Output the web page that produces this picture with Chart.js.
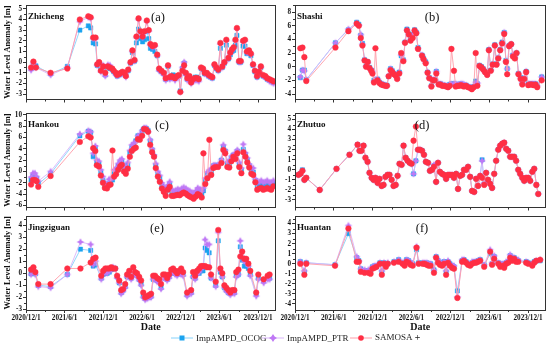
<!DOCTYPE html>
<html>
<head>
<meta charset="utf-8">
<title>Water level anomaly</title>
<script src="https://cdn.jsdelivr.net/npm/chart.js@4.4.1/dist/chart.umd.min.js"></script>
<style>
  html, body { margin: 0; padding: 0; background: #fff; }
  #wrap { position: relative; width: 550px; height: 345px; overflow: hidden; background: #fff;
          font-family: "Liberation Serif", "Times New Roman", serif; }
  #wrap canvas { position: absolute; }
  .leg { position: absolute; top: 331px; height: 13px; display: flex; align-items: center;
         font-size: 9px; color: #222; white-space: nowrap; }
  .leg svg { margin-right: 3px; }
</style>
</head>
<body>
<div id="wrap"></div>
<script>
// x values are days since 2020/12/1
const xTickDays   = [0, 182, 365, 547, 730, 912, 1095];
const xTickLabels = ["2020/12/1", "2021/6/1", "2021/12/1", "2022/6/1", "2022/12/1", "2023/6/1", "2023/12/1"];
const seriesNames = ["ImpAMPD_OCOG", "ImpAMPD_PTR", "SAMOSA＋"];
const stations    = ["Zhicheng", "Shashi", "Hankou", "Zhutuo", "Jingziguan", "Huantan"];
const letters     = ["(a)", "(b)", "(c)", "(d)", "(e)", "(f)"];

// (a) Zhicheng
const daysA = [24,35,47,116,195,254,294,305,317,328, 336,345,353,364,374,386,396,407,414,424,
  430,440,447,455,465,471,482,493,502,512, 521,531,540,550,559,570,579,587,597,608,
  619,628,639,650,659,670,678,686,694,703, 713,721,728,738,746,754,761,771,779,788,
  798,807,815,826,835,843,853,862,870,879, 889,898,907,917,926,936,945,955,964,972,
  980,988,995,1005,1013,1024,1033,1042,1052,1061, 1071,1080,1090,1099,1108,1118,1129,1138,1149,1159, 1168];
const ocogA = [-0.6,-0.05,-0.35,-1.1,-0.4,3.0,3.4,3.2,1.8,1.7, -0.3,-0.1,-0.7,-0.5,-1.2,-0.5,-0.6,-0.7,-0.9,-1.1,
  -1.3,-1.2,-1.1,-1.0,-1.1,-1.2,-0.8,-0.1,0.9,0.1, 1.8,3.1,2.2,1.9,2.1,2.9,2.2,1.3,1.2,1.0,
  0.6,-0.7,-0.9,-1.1,-1.6,-0.4,-1.5,-1.4,-1.2,-1.4, -1.3,-1.3,-2.7,-0.6,-0.1,-1.1,-1.6,-1.4,-1.8,-1.6,
  -1.4,-1.4,-1.5,-0.6,-0.7,-1.1,-1.1,-1.3,-1.4,-1.5, -0.3,-0.6,-0.8,1.3,-0.5,-0.1,1.6,0.3,0.7,1.0,
  1.1,1.6,2.5,0.0,0.0,1.5,1.5,0.8,0.9,0.6, -0.3,-0.9,-1.4,-1.0,-0.5,-1.3,-1.4,-1.6,-1.7,-1.8, -1.9];
const ptrA = [-0.75,-0.1,-0.5,-1.2,-0.5,3.8,4.2,4.1,2.2,2.2, -0.3,-0.1,-0.9,-0.3,-1.3,-0.25,-0.3,-0.7,-0.9,-1.2,
  -1.3,-1.2,-1.1,-1.0,-1.2,-1.4,-0.8,-0.1,1.0,0.1, 2.3,4.0,2.8,2.3,2.8,3.8,2.9,1.6,1.4,1.5,
  0.6,-0.8,-0.9,-1.2,-1.7,-0.4,-1.6,-1.5,-1.5,-1.7, -1.4,-1.4,-2.8,-0.5,0.0,-1.2,-1.7,-1.5,-2.0,-1.8,
  -1.7,-1.7,-1.8,-0.6,-0.7,-1.1,-1.2,-1.3,-1.4,-1.5, -0.3,-0.6,-0.8,1.7,-0.5,-0.1,2.0,0.3,0.8,1.1,
  1.3,2.0,3.1,0.0,0.0,1.9,2.0,0.9,1.0,0.7, -0.3,-0.9,-1.4,-1.0,-0.5,-1.3,-1.4,-1.6,-1.8,-1.9, -2.0];
const samosaA = [-0.5,0.05,-0.5,-1.0,-0.6,4.0,4.3,4.2,2.3,2.3, -0.2,0.0,-0.8,-0.4,-1.0,-0.4,-0.5,-0.6,-0.8,-1.0,
  -1.2,-1.1,-1.0,-0.9,-1.0,-1.3,-0.7,0.0,1.1,0.2, 2.4,4.1,2.9,2.4,2.9,3.9,3.0,1.7,1.5,1.6,
  0.7,-0.6,-0.8,-1.0,-1.5,-0.3,-1.4,-1.3,-1.4,-1.5, -1.3,-1.2,-2.8,-0.8,-0.3,-1.0,-1.5,-1.3,-1.9,-1.6,
  -1.5,-1.5,-1.6,-0.5,-0.6,-1.0,-1.0,-1.2,-1.3,-1.4, -0.2,-0.5,-0.7,1.8,-0.4,0.0,2.1,0.4,0.9,1.2,
  1.4,2.1,3.2,0.1,0.1,2.0,2.1,1.0,1.1,0.8, -0.2,-0.8,-1.3,-0.9,-0.4,-1.2,-1.3,-1.5,-1.6,-1.7, -1.8];
const yTicksA = [-3, -2, -1, 0, 1, 2, 3, 4, 5];

// (b) Shashi
const daysB = [25,35,44,53,190,251,290,300,309,317, 327,334,342,350,358,364,371,378,388,397,
  405,414,424,432,440,449,457,465,473,480, 490,499,509,517,526,535,543,553,562,570,
  578,597,604,614,623,631,641,648,656,664, 675,683,692,702,711,719,727,735,747,755,
  763,771,779,787,794,804,813,823,831,840, 849,857,867,876,884,893,903,911,920,929,
  939,947,955,964,973,983,991,997,1006,1016, 1024,1033,1041,1050,1060,1068,1077,1086,1096,1104,
  1113,1121,1130,1138,1159];
const ocogB = [-1.6,-0.5,-0.5,-1.9,3.5,5.4,6.5,6.2,4.6,3.4, 1.0,0.1,0.7,-0.1,-0.5,-0.6,-2.0,-1.9,-1.8,-2.3,
  -2.5,-2.6,-2.7,-2.7,-1.4,-0.3,-0.6,-1.0,-1.2,-1.7, -0.8,1.6,1.0,3.6,5.5,4.8,4.0,4.7,5.4,5.0,
  2.8,1.7,1.2,0.7,-0.8,-1.6,-2.8,-1.9,-1.9,-0.7, -2.5,-2.5,-2.7,-2.7,-2.8,-2.9,-2.6,-2.5,-2.5,-2.6,
  -2.6,-2.6,-2.5,-2.6,-2.7,-2.7,-2.9,-3.0,-3.1,-2.9, -2.1,-2.5,0.2,0.0,-0.3,-0.7,-1.1,2.5,-0.5,0.4,
  3.2,0.4,1.3,2.5,3.6,5.0,0.9,-0.3,3.1,3.3, 1.7,1.4,2.0,-1.0,-1.6,-2.4,-1.7,-0.7,-2.5,-2.5,
  -2.5,-2.5,-2.5,-2.8,-1.5];
const ptrB = [-1.5,-0.5,-0.6,-1.9,3.5,5.5,6.4,6.1,4.7,3.3, 1.0,0.1,0.6,-0.2,-0.5,-0.7,-2.1,-1.9,-1.8,-2.3,
  -2.5,-2.6,-2.7,-2.8,-1.3,-0.3,-0.7,-1.0,-1.3,-1.7, -0.8,1.7,1.0,3.6,5.4,4.8,4.0,4.7,5.3,5.0,
  2.7,1.7,1.1,0.6,-0.8,-1.6,-2.8,-1.9,-1.9,-0.7, -2.5,-2.5,-2.6,-2.7,-2.8,-2.9,-2.6,-2.5,-2.5,-2.5,
  -2.6,-2.6,-2.5,-2.5,-2.6,-2.7,-2.9,-3.0,-3.1,-2.9, -2.3,-2.4,0.1,-0.1,-0.3,-0.8,-1.1,2.5,-0.5,0.3,
  3.1,0.4,1.3,2.5,3.5,5.0,0.8,-0.3,3.1,3.3, 1.8,1.4,2.0,-1.0,-1.7,-2.4,-1.7,-0.7,-2.5,-2.5,
  -2.5,-2.5,-2.5,-2.8,-1.5];
const samosaB = [2.7,2.8,1.4,-2.1,2.8,5.2,6.3,6.0,4.2,3.1, 0.9,0.0,0.7,-0.2,-0.6,-1.0,-2.3,2.7,-2.0,-2.4,
  -2.6,-2.7,-2.8,-2.8,-1.4,-0.5,-0.8,-1.1,-1.3,-1.8, -1.0,2.0,0.8,3.5,5.3,4.7,3.8,4.2,5.3,4.9,
  2.6,1.6,1.1,0.5,-0.9,-1.7,-2.9,-2.0,-2.0,-1.0, -2.6,-2.6,-2.8,-2.8,-2.9,-3.0,-2.8,2.6,-0.6,-2.9,
  -2.8,-2.8,-2.7,-2.8,-2.9,-2.8,-3.0,-3.1,-3.3,-3.0, 2.0,-2.8,0.1,-0.1,-0.4,-0.8,-1.2,2.4,-0.6,0.3,
  3.1,0.3,1.2,2.4,3.4,4.8,0.7,-1.1,3.0,3.3, 1.5,1.2,2.0,-1.1,-1.8,-2.6,-1.8,-0.8,-2.7,-2.6,
  -2.6,-2.7,-2.6,-3.0,-2.0];
const yTicksB = [-4, -2, 0, 2, 4, 6, 8];

// (c) Hankou
const daysC = [24,33,42,50,58,116,254,294,305,317, 327,334,344,353,363,372,382,391,399,408,
  416,425,435,444,452,462,471,480,490,499, 509,518,528,537,548,557,567,576,586,595,
  604,612,622,631,641,650,659,669,678,688, 697,707,716,725,735,744,754,763,772,782,
  791,801,810,820,829,837,846,856,865,874, 884,893,906,922,931,940,950,959,969,978,
  988,997,1006,1016,1025,1035,1044,1053,1063,1072, 1082,1091,1101,1110,1119,1129,1138,1148,1157,1167];
const ocogC = [-1.5,-0.8,-0.9,-1.2,-2.2,-0.4,6.3,7.1,6.9,2.6, 4.2,1.6,1.3,-0.2,-1.6,-2.5,-2.7,-2.1,-1.9,-1.5,
  -0.4,0.1,1.0,1.5,1.7,0.5,0.0,1.1,3.3,4.2, 4.6,5.4,6.3,6.3,7.1,7.6,7.6,7.2,5.4,3.8,
  2.7,1.0,-0.4,-1.2,-2.6,-3.2,-3.9,-2.9,-2.3,-3.8, -3.8,-3.7,-3.6,-3.7,-3.4,-3.2,-3.4,-3.7,-3.9,-4.1,
  -4.3,-3.9,-3.5,-3.6,-4.0,-3.4,-1.8,-0.6,-0.2,0.0, 1.0,1.1,1.1,2.0,4.3,3.6,1.2,1.2,2.3,2.9,
  2.8,3.6,1.2,0.2,3.9,3.0,2.0,1.0,0.1,-0.1, -1.6,-2.6,-2.4,-2.3,-2.6,-2.5,-2.3,-2.6,-2.6,-2.0];
const ptrC = [-1.0,-0.3,-0.3,-0.9,-1.7,0.0,6.6,7.2,7.0,3.2, 4.5,2.0,1.8,0.3,-0.9,-2.0,-2.3,-1.4,-1.3,-1.2,
  0.3,0.6,1.4,2.0,2.2,1.1,0.5,1.6,3.7,4.7, 5.0,5.3,6.3,6.4,7.2,7.7,7.7,7.0,5.6,4.0,
  2.9,1.4,0.0,-0.7,-2.0,-2.7,-3.4,-2.4,-1.8,-3.3, -3.4,-3.3,-3.1,-3.3,-3.0,-2.8,-3.0,-3.3,-3.4,-3.7,
  -3.8,-3.4,-2.9,-3.1,-3.5,-2.9,-1.2,-0.1,0.2,0.5, 1.1,1.1,1.2,2.1,4.7,3.7,1.7,1.9,2.7,2.9,
  3.3,3.8,1.6,0.6,4.8,3.3,2.4,1.3,0.6,0.6, -1.3,-1.9,-1.8,-1.6,-1.9,-1.8,-1.6,-1.9,-1.9,-1.6];
const samosaC = [-2.3,-1.5,-1.5,-1.7,-2.7,-0.8,5.2,6.2,6.0,4.1, 3.6,1.1,0.9,-0.7,-2.0,-2.9,-3.0,-2.4,-2.3,3.7,
  -0.9,-0.5,0.3,0.9,1.2,0.0,-0.4,0.5,2.6,3.6, 4.0,4.2,5.7,5.6,6.3,7.5,7.4,7.0,4.7,3.4,
  2.6,0.6,-0.9,-1.8,-3.0,-3.6,-4.3,-3.2,-2.7,-4.3, -4.3,-4.2,-4.1,-4.2,-3.9,-3.7,-3.9,-4.2,-4.4,-4.6,
  -4.8,-4.4,-4.0,-4.2,-4.6,3.2,-2.2,-1.2,5.6,-0.6, 0.6,0.8,0.8,1.5,3.8,3.2,0.8,0.7,1.8,2.6,
  2.2,3.2,0.8,-0.3,3.4,2.6,1.6,0.7,-0.4,-0.6, -1.9,-3.2,-3.0,-2.9,-3.2,-3.1,-2.9,-3.1,-3.2,-2.6];
const yTicksC = [-6, -4, -2, 0, 2, 4, 6, 8, 10];

// (d) Zhutuo
const daysD = [16,25,35,44,53,116,195,256,294,303, 312,322,331,341,350,360,369,378,388,397,
  407,416,425,435,444,454,463,473,482,491, 501,510,520,529,539,548,557,568,578,587,
  597,606,615,625,634,644,653,663,672,681, 691,700,710,719,728,738,747,757,766,776,
  785,794,804,813,823,832,842,851,860,870, 879,889,898,907,917,926,936,945,955,964,
  974,983,992,1002,1011,1020,1030,1039,1049,1058, 1068,1077,1086,1096,1105,1115,1124,1134,1143];
const ocogD = [-0.5,-0.4,0.0,-1.0,-0.8,-2.0,0.1,1.5,2.5,1.9, 1.9,2.4,1.2,0.8,-0.3,-0.8,-1.0,-0.8,-1.3,-0.9,
  -1.6,-1.5,-0.7,-0.5,-0.5,-1.0,-1.6,-1.5,-0.6,0.6, 0.5,2.4,1.2,0.9,0.7,0.6,-0.4,0.9,2.0,2.0,
  1.9,1.5,0.8,0.7,-0.1,0.0,0.4,-1.2,0.7,-0.2, -0.4,-0.5,-0.9,-0.5,-0.5,-0.5,-0.8,-0.4,-1.9,-0.6,
  -0.5,0.0,0.0,0.3,-0.7,-2.1,-2.2,-0.9,-1.6,-0.6, 1.0,-1.4,-0.3,-1.0,-1.4,-1.8,-0.4,0.9,2.0,2.4,
  2.6,2.7,2.1,1.9,1.3,1.3,1.3,0.9,0.0,-0.4, -0.8,-1.1,-0.8,-0.8,-1.1,-0.2,0.1,-1.5,-2.4];
const ptrD = [-0.5,-0.4,-0.1,-1.0,-0.8,-2.0,0.1,1.5,2.5,1.9, 1.9,2.4,1.2,0.8,-0.3,-0.8,-1.0,-0.8,-1.3,-0.9,
  -1.6,-1.5,-0.7,-0.5,-0.5,-1.0,-1.6,-1.5,-0.6,0.6, 0.5,2.4,1.2,0.9,0.7,0.6,-0.4,0.9,2.0,2.0,
  1.9,1.5,0.8,0.7,-0.1,0.0,0.5,-1.2,0.7,-0.2, -0.4,-0.5,-0.9,-0.5,-0.5,-0.5,-0.8,-0.4,-1.9,-0.6,
  -0.5,0.0,0.0,0.3,-0.7,-2.1,-2.2,-0.9,-1.6,-0.6, 0.9,-1.3,-0.3,-1.0,-1.4,-1.8,-0.4,0.9,2.0,2.4,
  2.6,2.7,2.1,1.9,1.3,1.3,1.3,0.9,0.0,-0.4, -0.8,-1.1,-0.8,-0.8,-1.1,-0.2,0.1,-1.5,-2.4];
const samosaD = [-0.5,-0.4,-0.1,-1.0,-0.8,-2.0,0.1,1.5,2.5,1.9, 1.9,2.4,1.2,0.8,-0.3,-0.8,-1.0,-0.8,-1.3,-0.9,
  -1.6,-1.5,-0.7,-0.5,-0.5,-1.0,-1.6,-1.5,-0.6,0.6, 0.5,2.4,1.2,0.9,0.7,0.6,2.9,4.3,2.0,2.0,
  1.9,1.5,0.8,0.7,-0.1,0.0,0.3,-1.2,0.7,-0.2, -0.4,-0.5,-0.9,-0.5,-0.5,-0.5,-0.8,-0.4,-1.9,-0.6,
  -0.5,0.0,0.0,0.3,-0.7,-2.1,-2.2,-0.9,-1.6,-0.6, -0.8,-1.5,-0.3,-1.0,-1.4,-1.8,-0.4,0.9,2.0,2.4,
  2.6,2.7,2.1,1.9,1.3,1.3,1.3,0.9,0.0,-0.4, -0.8,-1.1,-0.8,-0.8,-1.1,-0.2,0.1,-1.5,-2.4];
const yTicksD = [-3, -2, -1, 0, 1, 2, 3, 4, 5];

// (e) Jingziguan
const daysE = [24,35,44,58,116,195,257,305,317,328, 355,364,374,383,393,402,411,421,430,440,
  449,458,468,477,487,496,506,515,524,534, 543,553,562,572,581,590,600,609,619,628,
  637,647,656,666,675,685,694,704,713,722, 732,741,760,779,788,798,807,817,826,835,
  845,854,864,873,895,907,917,926,936,945, 955,964,973,983,992,1002,1011,1020,1030,1039,
  1049,1058,1086,1096,1121,1140,1149];
const ocogE = [-0.05,0.3,-0.05,-1.0,-1.1,-0.1,2.0,1.9,0.6,0.7, -0.4,-0.1,0.0,0.0,0.1,0.3,0.4,0.4,-0.3,-0.8,
  -1.6,-1.4,-1.1,-0.3,0.0,-0.4,0.3,-0.1,-0.2,-0.5, -0.9,-1.9,-2.1,-2.0,-2.0,-1.9,-0.5,-0.4,-0.6,-0.7,
  -1.2,-0.4,-0.3,-0.5,-0.3,0.0,0.1,0.0,-0.1,0.1, 0.0,-0.1,-1.8,-1.6,-0.3,-0.4,0.0,0.0,0.2,0.2,
  2.1,1.9,1.7,-0.4,-1.0,2.7,0.1,-0.3,-1.2,-1.4, -1.6,-1.7,-1.5,-1.6,-0.2,-0.1,2.2,1.1,0.6,0.6,
  0.4,-0.1,-1.7,-0.4,-0.6,-0.4,-0.4];
const ptrE = [-0.1,0.2,-0.1,-1.1,-1.2,-0.1,2.6,2.4,0.7,1.0, -0.5,-0.1,0.1,0.0,0.2,0.3,0.5,0.4,-0.4,-0.8,
  -1.7,-1.5,-1.2,-0.3,-0.1,-0.5,0.2,-0.1,-0.3,-0.6, -1.0,-2.0,-2.2,-2.1,-2.0,-2.0,-0.5,-0.5,-0.7,-0.8,
  -1.3,-0.4,-0.4,-0.6,-0.4,0.0,0.1,-0.1,-0.2,0.0, -0.1,-0.2,-1.9,-1.7,-0.3,-0.5,-0.1,0.1,0.4,0.5,
  2.8,2.4,2.4,-0.4,-1.1,3.4,0.2,-0.3,-1.2,-1.5, -1.6,-1.8,-1.6,-1.7,-0.3,-0.1,2.7,1.4,1.0,0.9,
  0.6,-0.2,-1.9,-0.5,-0.8,-0.5,-0.5];
const samosaE = [0.3,0.5,0.1,-0.9,-0.9,0.4,0.4,0.9,1.2,1.3, -0.2,0.2,0.4,0.4,0.4,0.5,0.4,0.4,-0.2,-0.6,
  -1.4,-1.3,-0.9,-0.1,0.2,-0.3,0.5,0.1,0.0,-0.3, -0.6,-1.6,-2.0,-1.9,-1.8,-1.7,-0.2,-0.2,-0.4,-0.5,
  -0.9,-0.1,-0.1,-0.4,-0.1,0.3,0.4,0.2,0.0,0.2, 0.4,0.1,-1.6,-1.4,0.1,-0.2,0.2,0.4,0.6,0.6,
  0.6,0.5,0.5,-0.1,-0.7,3.6,0.4,0.0,-1.0,-1.2, -1.4,-1.6,-1.4,-1.4,0.1,0.3,1.4,1.8,1.2,1.2,
  0.8,0.2,-1.6,-0.1,-0.5,-0.2,-0.1];
const yTicksE = [-3, -2, -1, 0, 1, 2, 3, 4];

// (f) Huantan
const daysF = [25,44,53,188,251,290,300,309,327,345, 355,364,374,383,399,408,418,427,436,465,
  487,505,515,524,534,543,553,571,581,600, 609,619,628,637,653,663,672,681,691,700,
  710,719,728,738,747,763,785,794,804,813, 823,832,842,851,860,870,889,917,926,936,
  955,964,974,983,992,1002,1011,1020,1030,1039, 1049,1086,1096,1115,1124,1134,1152];
const ocogF = [0.2,-0.8,0.1,-0.1,3.0,0.6,0.3,-0.5,-0.7,-0.7, -0.7,-0.3,-0.2,-0.3,0.1,-0.8,0.1,-0.1,0.0,0.2,
  0.4,0.1,0.0,0.4,0.3,0.1,0.0,1.4,0.1,0.1, 0.0,0.1,0.0,0.0,-0.6,0.7,0.3,0.1,0.0,0.2,
  -0.8,0.2,0.0,-0.2,-0.3,-2.7,0.3,0.4,0.2,0.0, -0.1,0.1,0.2,0.2,0.3,0.4,-0.1,1.0,0.0,0.7,
  0.1,-0.1,0.0,-0.2,0.1,0.2,0.8,0.5,0.6,0.4, 0.3,0.2,0.1,0.0,0.2,0.3,0.3];
const ptrF = [0.2,-0.7,0.1,-0.1,3.8,0.7,0.3,-0.5,-0.6,-0.6, -0.6,-0.3,-0.2,-0.2,0.1,-0.7,0.1,-0.1,0.1,0.2,
  0.4,0.1,0.0,0.4,0.3,0.1,0.0,1.7,0.1,0.1, 0.1,0.1,0.0,0.0,-0.6,0.7,0.4,0.1,0.0,0.2,
  -0.7,0.3,0.0,-0.2,-0.2,-3.3,0.4,0.4,0.2,0.0, 0.0,0.2,0.2,0.2,0.3,0.4,-0.1,1.4,0.1,0.8,
  0.1,0.0,0.0,-0.2,0.2,0.2,0.9,0.5,0.6,0.4, 0.4,0.2,0.1,0.0,0.2,0.3,0.4];
const samosaF = [0.0,-1.1,0.0,-0.2,3.5,0.2,0.2,-0.8,-0.9,-0.9, -1.0,-0.5,-0.4,-0.3,0.0,-1.1,0.0,-0.3,0.0,0.1,
  0.2,0.0,-0.2,0.2,0.1,-0.1,-0.2,1.6,0.0,0.0, 0.0,-0.1,-0.2,-0.2,-0.9,0.6,0.1,-0.1,-0.2,0.0,
  -1.1,0.1,-0.2,-0.4,-0.5,-3.4,0.2,0.3,0.1,-0.1, -0.2,0.0,0.1,0.1,0.2,0.3,-0.3,1.2,-0.1,0.5,
  0.0,-0.3,-0.2,-0.4,0.0,0.1,0.6,0.3,0.5,0.2, 0.2,0.1,0.0,-0.2,0.1,0.3,0.4];
const yTicksF = [-4, -3, -2, -1, 0, 1, 2, 3, 4];

(() => {
  "use strict";

  const wrap = document.getElementById("wrap");
  const SERIF = "'Liberation Serif', 'Times New Roman', serif";
  const X_MAX = 1177;

  const OCOG   = { point: "#1aa3ef", line: "#86d2fb" };
  const PTR    = { point: "#bf78f5", line: "#d9b4fb" };
  const SAMOSA = { point: "#ff2e44", line: "#ff9ca8" };

  // four-point star for the PTR marker
  function starMarker(color, r) {
    const c = document.createElement("canvas");
    const s = Math.ceil(r * 2) + 2;
    c.width = c.height = s;
    const g = c.getContext("2d");
    const m = s / 2;
    g.fillStyle = color;
    g.beginPath();
    for (let i = 0; i < 8; i++) {
      const a = i * Math.PI / 4 - Math.PI / 2;
      const rr = i % 2 ? r * 0.5 : r;
      g.lineTo(m + rr * Math.cos(a), m + rr * Math.sin(a));
    }
    g.closePath();
    g.fill();
    return c;
  }
  const ptrStar = starMarker(PTR.point, 3.8);

  // columns: left / right, rows: top / middle / bottom
  const COL = [{ left: 0, w: 280, yw: 26 }, { left: 280, w: 270, yw: 15 }];
  const ROW = [{ top: 0, h: 104, pad: 3, xh: 4 }, { top: 108, h: 104, pad: 4, xh: 4 }, { top: 211, h: 124, pad: 4, xh: 25 }];

  const panels = [
    { col: 0, row: 0, days: daysA, ocog: ocogA, ptr: ptrA, samosa: samosaA, yTicks: yTicksA, min: -3.5, max: 5.4, lx: 132 },
    { col: 1, row: 0, days: daysB, ocog: ocogB, ptr: ptrB, samosa: samosaB, yTicks: yTicksB, min: -4.8, max: 9.1, lx: 137 },
    { col: 0, row: 1, days: daysC, ocog: ocogC, ptr: ptrC, samosa: samosaC, yTicks: yTicksC, min: -6.35, max: 10.4, lx: 136 },
    { col: 1, row: 1, days: daysD, ocog: ocogD, ptr: ptrD, samosa: samosaD, yTicks: yTicksD, min: -3.75, max: 5.7, lx: 127 },
    { col: 0, row: 2, days: daysE, ocog: ocogE, ptr: ptrE, samosa: samosaE, yTicks: yTicksE, min: -3.05, max: 4.8, lx: 131 },
    { col: 1, row: 2, days: daysF, ocog: ocogF, ptr: ptrF, samosa: samosaF, yTicks: yTicksF, min: -4.6, max: 4.8, lx: 127 },
  ];

  // frame, minor ticks, station name, panel letter
  const framePlugin = {
    id: "frame",
    afterDraw(chart, args, opts) {
      const { ctx, chartArea: a, scales } = chart;
      ctx.save();
      ctx.strokeStyle = "#333";
      ctx.lineWidth = 1;
      ctx.strokeRect(Math.round(a.left) + 0.5, Math.round(a.top) + 0.5,
        Math.round(a.right - a.left) - 1, Math.round(a.bottom - a.top) - 1);

      // minor ticks halfway between the major ones
      ctx.beginPath();
      for (let i = 0; i < xTickDays.length; i++) {
        const mid = xTickDays[i] + 91;
        if (mid > X_MAX) break;
        const px = Math.round(scales.x.getPixelForValue(mid)) + 0.5;
        ctx.moveTo(px, a.bottom);
        ctx.lineTo(px, a.bottom + 2);
      }
      const yt = opts.yTicks;
      const step = yt[1] - yt[0];
      for (let i = 0; i < yt.length; i++) {
        const mid = yt[i] + step / 2;
        if (mid > scales.y.max) break;
        const py = Math.round(scales.y.getPixelForValue(mid)) + 0.5;
        ctx.moveTo(a.left, py);
        ctx.lineTo(a.left - 2, py);
      }
      ctx.stroke();

      ctx.fillStyle = "#111";
      ctx.textBaseline = "alphabetic";
      ctx.font = "bold 9px " + SERIF;
      ctx.textAlign = "left";
      ctx.fillText(opts.station, a.left + 2, a.top + 14.5);
      ctx.font = "12.5px " + SERIF;
      ctx.textAlign = "center";
      ctx.fillText(opts.letter, a.left + opts.lx, a.top + 16);
      ctx.restore();
    }
  };

  const tickFont = { family: SERIF, size: 7.2, weight: "bold" };

  function dataset(label, days, ys, c, style, radius, order) {
    return {
      label,
      data: days.map((d, i) => ({ x: d, y: ys[i] })),
      borderColor: c.line,
      borderWidth: 0.9,
      pointStyle: style,
      pointRadius: radius,
      pointBackgroundColor: c.point,
      pointBorderColor: c.point,
      pointBorderWidth: 0.5,
      tension: 0,
      order
    };
  }

  panels.forEach((p, k) => {
    const col = COL[p.col], row = ROW[p.row];
    const bottomRow = p.row === 2;
    const cv = document.createElement("canvas");
    cv.width = col.w;
    cv.height = row.h;
    cv.style.left = col.left + "px";
    cv.style.top = row.top + "px";
    wrap.appendChild(cv);

    new Chart(cv, {
      type: "line",
      data: {
        datasets: [
          dataset(seriesNames[0], p.days, p.ocog, OCOG, "rect", 3.0, 3),
          dataset(seriesNames[1], p.days, p.ptr, PTR, ptrStar, 3.8, 2),
          dataset(seriesNames[2], p.days, p.samosa, SAMOSA, "circle", 2.8, 1),
        ]
      },
      options: {
        responsive: false,
        animation: false,
        devicePixelRatio: 1,
        layout: { padding: { top: row.pad, right: 4, left: 0, bottom: 0 } },
        plugins: {
          legend: { display: false },
          tooltip: { enabled: false },
          frame: { station: stations[k], letter: letters[k], lx: p.lx, yTicks: p.yTicks }
        },
        scales: {
          x: {
            type: "linear",
            min: 0,
            max: X_MAX,
            afterBuildTicks: (s) => { s.ticks = xTickDays.map((v) => ({ value: v })); },
            afterFit: (s) => { s.height = row.xh; s.paddingLeft = 0; s.paddingRight = 0; },
            border: { display: false },
            grid: { drawOnChartArea: false, drawTicks: true, tickLength: 3, color: "#333" },
            ticks: {
              display: bottomRow,
              autoSkip: false,
              maxRotation: 0,
              padding: 1,
              color: "#111",
              font: tickFont,
              callback: (v) => xTickLabels[xTickDays.indexOf(v)] ?? ""
            },
            title: {
              display: bottomRow,
              text: "Date",
              color: "#111",
              font: { family: SERIF, size: 10, weight: "bold" },
              padding: { top: 0, bottom: 2 }
            }
          },
          y: {
            min: p.min,
            max: p.max,
            afterBuildTicks: (s) => { s.ticks = p.yTicks.map((v) => ({ value: v })); },
            afterFit: (s) => { s.width = col.yw; s.paddingTop = 0; s.paddingBottom = 0; },
            border: { display: false },
            grid: { drawOnChartArea: false, drawTicks: true, tickLength: 3, color: "#333" },
            ticks: { autoSkip: false, padding: 1, color: "#111", font: tickFont },
            title: {
              display: p.col === 0,
              text: "Water Level Anomaly [m]",
              color: "#111",
              font: { family: SERIF, size: 8.4, weight: "bold" },
              padding: { top: 3, bottom: 0 }
            }
          }
        }
      },
      plugins: [framePlugin]
    });
  });

  // legend
  const legendPos = [171, 262, 350];
  const markerSvg = [
    (c) => `<rect x="8.5" y="1.5" width="5" height="5" fill="${c}"/>`,
    (c) => `<path d="M11 0 L12.6 2.4 L15 4 L12.6 5.6 L11 8 L9.4 5.6 L7 4 L9.4 2.4 Z" fill="${c}"/>`,
    (c) => `<circle cx="11" cy="4" r="2.8" fill="${c}"/>`
  ];
  [OCOG, PTR, SAMOSA].forEach((c, i) => {
    const item = document.createElement("div");
    item.className = "leg";
    item.style.left = legendPos[i] + "px";
    item.innerHTML =
      `<svg width="22" height="8"><line x1="0" y1="4" x2="22" y2="4" stroke="${c.line}" stroke-width="1"/>` +
      markerSvg[i](c.point) + `</svg><span>${seriesNames[i]}</span>`;
    wrap.appendChild(item);
  });
})();
</script>
</body>
</html>
